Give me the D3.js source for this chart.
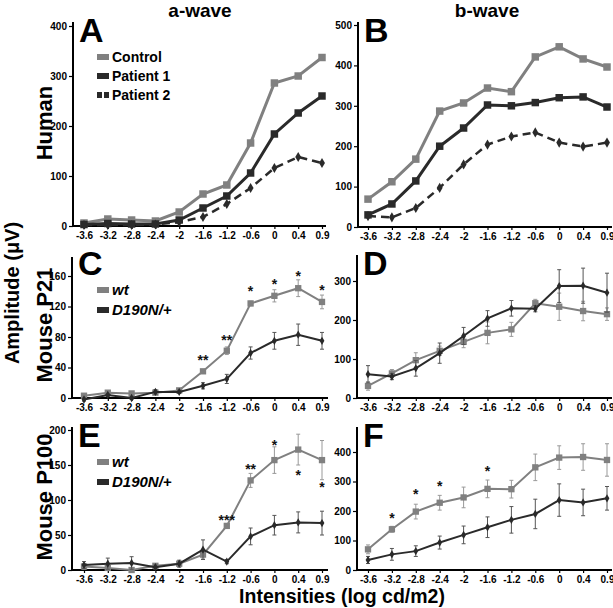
<!DOCTYPE html>
<html><head><meta charset="utf-8">
<script src="https://cdn.jsdelivr.net/npm/d3@7/dist/d3.min.js"></script>
<style>
html,body{margin:0;padding:0;background:#fff;}
svg text{font-family:"Liberation Sans",Arial,sans-serif;}
</style></head>
<body><svg id="c" width="613" height="608"></svg>
<script>
const intensities = ["-3.6","-3.2","-2.8","-2.4","-2","-1.6","-1.2","-0.6","0","0.4","0.9"];

const humanA_control = [6,14,12,10,28,64,82,166,286,300,337];
const humanA_p1      = [3,5,4,4,12,36,60,106,184,226,260];
const humanA_p2      = [2,2,2,3,8,18,44,76,116,138,126];

const humanB_control = [69,112,168,287,307,344,335,421,446,416,396];
const humanB_p1      = [30,57,114,200,245,302,300,308,320,322,297];
const humanB_p2      = [27,24,47,97,155,204,224,234,209,199,209];

const p21A_wt      = [3,7,6,7,10,35,62,124,134,144,126];
const p21A_wt_err  = [2,2,2,2,2,2,5,3,8,11,9];
const p21A_mut     = [-2,4,0,8,8,16,25,59,75,83,75];
const p21A_mut_err = [2,2,2,3,2,4,6,8,11,14,11];

const p21B_wt      = [31,63,97,121,144,167,176,243,234,223,215];
const p21B_wt_err  = [11,10,19,12,15,28,18,10,35,25,16];
const p21B_mut     = [61,55,76,115,159,204,230,229,287,288,270];
const p21B_mut_err = [22,8,20,26,22,20,20,8,42,45,50];

const p100A_wt      = [5,3,0,6,9,22,63,128,157,172,157];
const p100A_wt_err  = [4,2,2,2,3,5,3,10,19,22,28];
const p100A_mut     = [7,9,10,4,9,29,12,48,64,68,67];
const p100A_mut_err = [5,8,9,3,5,14,3,12,14,15,17];

const p100B_wt      = [70,138,198,228,246,275,274,348,381,383,373];
const p100B_wt_err  = [15,10,25,25,35,30,30,45,40,45,55];
const p100B_mut     = [34,53,64,93,119,145,170,190,237,229,243];
const p100B_mut_err = [12,20,18,22,30,35,45,50,55,45,40];

// significance marks: [intensity, label, value position]
const starsC = [["-1.6","**",54],["-1.2","**",80],["-0.6","*",144],["0","*",153],["0.4","*",164],["0.9","*",146]];
const starsE = [["-1.2","***",76],["-0.6","**",149],["0","*",183],["0.4","*",140],["0.9","*",123]];
const starsF = [["-3.2","*",186],["-2.8","*",268],["-2.4","*",295],["-1.6","*",346]];

const ticksA = [0,100,200,300,400];
const ticksB = [0,100,200,300,400,500];
const ticksC = [0,40,80,120,160];
const ticksD = [0,100,200,300];
const ticksE = [0,50,100,150,200];
const ticksF = [0,100,200,300,400];

const GRAY = "#808080", DARK = "#2a2a2a";
const svg = d3.select("#c");

function panel(cfg){
  const g = svg.append("g");
  const x = d3.scalePoint().domain(intensities).range([cfg.x0, cfg.x1]);
  const y = d3.scaleLinear().domain([0, cfg.yMax]).range([cfg.yb, cfg.yt]);
  const xa = g.append("g").attr("transform",`translate(0,${cfg.yb})`)
    .call(d3.axisBottom(x).tickSize(3).tickPadding(3));
  xa.select(".domain").remove();
  xa.selectAll("line").attr("stroke","#000").attr("stroke-width",1.2);
  xa.selectAll("text").attr("font-size",10).attr("font-weight","bold").attr("fill","#000");
  const ya = g.append("g").attr("transform",`translate(${cfg.ax},0)`)
    .call(d3.axisLeft(y).tickValues(cfg.ticks).tickSize(4).tickPadding(2));
  ya.select(".domain").remove();
  ya.selectAll("line").attr("stroke","#000").attr("stroke-width",1.2);
  ya.selectAll("text").attr("font-size",10).attr("font-weight","bold").attr("fill","#000");
  g.append("line").attr("x1",cfg.ax).attr("x2",cfg.ax).attr("y1",cfg.yb+1).attr("y2",cfg.axTop)
    .attr("stroke","#000").attr("stroke-width",2);
  g.append("line").attr("x1",cfg.ax).attr("x2",cfg.axRight).attr("y1",cfg.yb).attr("y2",cfg.yb)
    .attr("stroke","#000").attr("stroke-width",2);
  cfg.series.forEach(s => {
    const pts = s.values.map((v,i)=>({c:intensities[i], v, e: s.err ? s.err[i] : 0}));
    if (s.err){
      const eb = g.append("g");
      pts.forEach(p=>{
        const xc = x(p.c);
        eb.append("line").attr("x1",xc).attr("x2",xc).attr("y1",y(p.v-p.e)).attr("y2",y(p.v+p.e))
          .attr("stroke",s.errColor).attr("stroke-width",1);
        [p.v-p.e,p.v+p.e].forEach(vv=>eb.append("line").attr("x1",xc-2).attr("x2",xc+2)
          .attr("y1",y(vv)).attr("y2",y(vv)).attr("stroke",s.errColor).attr("stroke-width",1));
      });
    }
    g.append("path").datum(pts)
      .attr("d", d3.line().x(d=>x(d.c)).y(d=>y(d.v)))
      .attr("fill","none").attr("stroke",s.color).attr("stroke-width",s.lw)
      .attr("stroke-dasharray", s.dash || null);
    g.selectAll(null).data(pts).enter().append("path")
      .attr("transform",d=>`translate(${x(d.c)},${y(d.v)})`)
      .attr("d", d3.symbol().type(s.sym).size(s.size)())
      .attr("fill",s.color);
  });
  (cfg.stars||[]).forEach(st=>{
    g.append("text").attr("x",x(st[0])).attr("y",y(st[2])+8).attr("text-anchor","middle")
      .attr("font-size",14).attr("font-weight","bold").attr("fill","#111").text(st[1]);
  });
  g.append("text").attr("x",cfg.ax+6).attr("y",cfg.letterY).attr("font-size",34).attr("font-weight","bold")
    .attr("fill","#000").text(cfg.letter);
  if (cfg.legend){
    cfg.legend.forEach((L,i)=>{
      const ly = cfg.legY + i*cfg.legStep;
      if (L.dash){
        g.append("rect").attr("x",97).attr("y",ly-3).attr("width",5).attr("height",6).attr("fill",L.color);
        g.append("rect").attr("x",104).attr("y",ly-3).attr("width",5).attr("height",6).attr("fill",L.color);
      } else {
        g.append("rect").attr("x",97).attr("y",ly-3).attr("width",12).attr("height",6).attr("fill",L.color);
      }
      g.append("text").attr("x",112).attr("y",ly+5).attr("font-size",cfg.legFont).attr("font-weight","bold")
        .attr("font-style",cfg.legItalic?"italic":"normal").attr("fill","#000").text(L.label);
    });
  }
}

const humanLegend = [{label:"Control",color:GRAY},{label:"Patient 1",color:DARK},{label:"Patient 2",color:DARK,dash:true}];
const mouseLegend = [{label:"wt",color:GRAY},{label:"D190N/+",color:DARK}];

panel({x0:84,x1:322,ax:73,axRight:326,yb:226,yt:26,yMax:400,axTop:22,ticks:ticksA,letter:"A",letterY:42,
  legend:humanLegend,legY:57,legStep:19,legFont:14,
  series:[
   {values:humanA_control,color:GRAY,lw:3,sym:d3.symbolSquare,size:56},
   {values:humanA_p1,color:DARK,lw:3,sym:d3.symbolSquare,size:56},
   {values:humanA_p2,color:DARK,lw:2.5,dash:"8,5",sym:d3.symbolDiamond,size:30}]});
panel({x0:368,x1:607,ax:358,axRight:612,yb:227,yt:25,yMax:500,axTop:22,ticks:ticksB,letter:"B",letterY:42,
  series:[
   {values:humanB_control,color:GRAY,lw:3,sym:d3.symbolSquare,size:56},
   {values:humanB_p1,color:DARK,lw:3,sym:d3.symbolSquare,size:56},
   {values:humanB_p2,color:DARK,lw:2.5,dash:"8,5",sym:d3.symbolDiamond,size:30}]});
panel({x0:84,x1:322,ax:72,axRight:328,yb:398,yt:276,yMax:160,axTop:257,ticks:ticksC,letter:"C",letterY:275,
  legend:mouseLegend,legY:290,legStep:20,legFont:15,legItalic:true,stars:starsC,
  series:[
   {values:p21A_wt,err:p21A_wt_err,errColor:"#999",color:GRAY,lw:2,sym:d3.symbolSquare,size:40},
   {values:p21A_mut,err:p21A_mut_err,errColor:"#555",color:DARK,lw:2,sym:d3.symbolDiamond,size:20}]});
panel({x0:368,x1:607,ax:357,axRight:612,yb:398,yt:281,yMax:300,axTop:255,ticks:ticksD,letter:"D",letterY:275,
  series:[
   {values:p21B_wt,err:p21B_wt_err,errColor:"#999",color:GRAY,lw:2,sym:d3.symbolSquare,size:40},
   {values:p21B_mut,err:p21B_mut_err,errColor:"#555",color:DARK,lw:2,sym:d3.symbolDiamond,size:20}]});
panel({x0:84,x1:322,ax:72,axRight:328,yb:570,yt:430,yMax:200,axTop:427,ticks:ticksE,letter:"E",letterY:447,
  legend:mouseLegend,legY:462,legStep:20,legFont:15,legItalic:true,stars:starsE,
  series:[
   {values:p100A_wt,err:p100A_wt_err,errColor:"#999",color:GRAY,lw:2,sym:d3.symbolSquare,size:40},
   {values:p100A_mut,err:p100A_mut_err,errColor:"#555",color:DARK,lw:2,sym:d3.symbolDiamond,size:20}]});
panel({x0:368,x1:607,ax:357,axRight:612,yb:570,yt:452,yMax:400,axTop:427,ticks:ticksF,letter:"F",letterY:447,
  stars:starsF,
  series:[
   {values:p100B_wt,err:p100B_wt_err,errColor:"#999",color:GRAY,lw:2,sym:d3.symbolSquare,size:40},
   {values:p100B_mut,err:p100B_mut_err,errColor:"#555",color:DARK,lw:2,sym:d3.symbolDiamond,size:20}]});

svg.append("text").attr("x",200).attr("y",17).attr("text-anchor","middle").attr("font-size",19)
  .attr("font-weight","bold").text("a-wave");
svg.append("text").attr("x",487).attr("y",17).attr("text-anchor","middle").attr("font-size",19)
  .attr("font-weight","bold").text("b-wave");
function vlabel(text,x,y,size){
  svg.append("text").attr("transform",`translate(${x},${y}) rotate(-90)`).attr("text-anchor","middle")
    .attr("font-size",size).attr("font-weight","bold").text(text);
}
vlabel("Human",52,123,22);
vlabel("Mouse P21",52,325,22);
vlabel("Mouse P100",52,497,22);
vlabel("Amplitude (μV)",19,293,20);
svg.append("text").attr("x",342).attr("y",603).attr("text-anchor","middle").attr("font-size",19.5)
  .attr("font-weight","bold").text("Intensities (log cd/m2)");
</script></body></html>
